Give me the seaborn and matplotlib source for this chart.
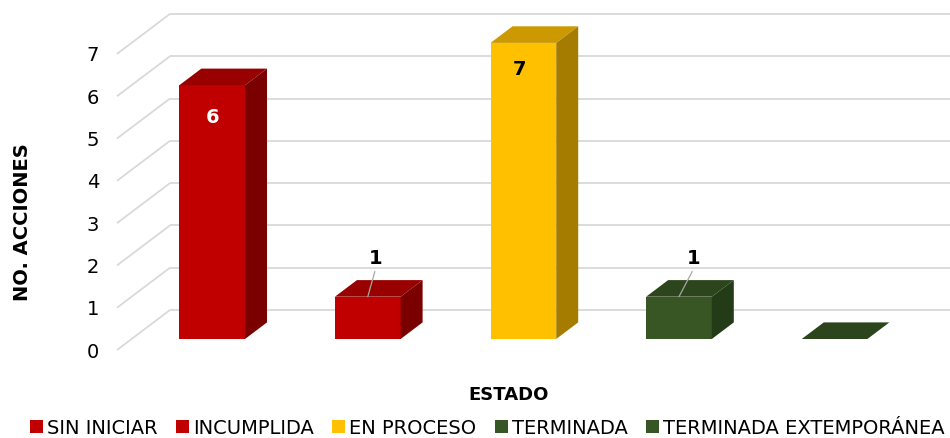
import matplotlib
matplotlib.use('Agg')
import matplotlib.pyplot as plt
import seaborn as sns
from matplotlib.patches import Polygon, Patch
import matplotlib.colors as mcolors

# ---- data ----
categories = ['SIN INICIAR', 'INCUMPLIDA', 'EN PROCESO', 'TERMINADA', 'TERMINADA EXTEMPORÁNEA']
values = [6, 1, 7, 1, 0]
front_colors = ['#C00000', '#C00000', '#FFC000', '#375623', '#375623']
top_colors = ['#990000', '#990000', '#CC9A00', '#2C451C', '#2C451C']
side_colors = ['#7A0000', '#7A0000', '#A67C00', '#243B17', '#243B17']
y_ticks = [0, 1, 2, 3, 4, 5, 6, 7]
y_title = 'NO. ACCIONES'
x_title = 'ESTADO'

# ---- style / layout ----
sns.set_style('white')
plt.rcParams['font.family'] = ['DejaVu Sans']
plt.rcParams['text.color'] = 'black'
plt.rcParams['axes.labelcolor'] = 'black'

W, H = 950, 438
fig = plt.figure(figsize=(W / 100, H / 100), dpi=100)
px_x = 155.6   # pixels per category
px_y = 42.3    # pixels per value unit
ax_left, ax_bottom = 117, 88
xlim = (-0.518, 4.518)
ylim = (0, 8)
ax = fig.add_axes([ax_left / W, ax_bottom / H,
                   (xlim[1] - xlim[0]) * px_x / W, (ylim[1] - ylim[0]) * px_y / H])
ax.set_facecolor('none')

# oblique depth projection (data units per unit depth)
kx = 53 / px_x
ky = 40 / px_y
z1, z2 = 0.275, 0.69
dz = z2 - z1

grid_col = '#D9D9D9'
for v in y_ticks:
    ax.plot([xlim[0], xlim[0] + kx], [v, v + ky], color=grid_col, lw=1.3,
            clip_on=False, zorder=0, solid_capstyle='butt')
    ax.plot([xlim[0] + kx, xlim[1] + kx + 0.3], [v + ky, v + ky], color=grid_col,
            lw=1.3, clip_on=False, zorder=0, solid_capstyle='butt')

sns.barplot(x=categories, y=values, hue=categories, palette=front_colors,
            width=0.422, saturation=1, ax=ax, legend=False, order=categories,
            hue_order=categories)

bars = sorted(ax.patches, key=lambda p: p.get_x())
label_offsets = [(0, -31), (8, -39.5), (-4, -25), (15, -39.5), None]
for i, p in enumerate(bars):
    p.set_linewidth(0)
    p.set_zorder(2)
    xl = p.get_x() + z1 * kx
    w = p.get_width()
    h = p.get_height()
    y0 = z1 * ky
    p.set_x(xl)
    p.set_y(y0)
    top = Polygon([(xl, y0 + h), (xl + w, y0 + h),
                   (xl + w + dz * kx, y0 + h + dz * ky), (xl + dz * kx, y0 + h + dz * ky)],
                  closed=True, facecolor=top_colors[i], edgecolor='none', zorder=2,
                  clip_on=False)
    ax.add_patch(top)
    if h > 0:
        side = Polygon([(xl + w, y0), (xl + w + dz * kx, y0 + dz * ky),
                        (xl + w + dz * kx, y0 + h + dz * ky), (xl + w, y0 + h)],
                       closed=True, facecolor=side_colors[i], edgecolor='none',
                       zorder=2, clip_on=False)
        ax.add_patch(side)

    off = label_offsets[i]
    if off is None or values[i] == 0:
        continue
    cx = xl + w / 2
    ytop = y0 + h
    dx_px, dy_px = off
    r, g, b = mcolors.to_rgb(front_colors[i])
    lum = 0.299 * r + 0.587 * g + 0.114 * b
    if values[i] >= 2:
        col = 'white' if lum < 0.5 else 'black'
        ax.annotate(str(values[i]), xy=(cx, ytop), xytext=(dx_px * 0.72, (dy_px - 7) * 0.72),
                    textcoords='offset points', ha='center', va='baseline',
                    fontsize=14, fontweight='bold', color=col, zorder=5,
                    annotation_clip=False)
    else:
        ax.annotate(str(values[i]), xy=(cx, ytop), xytext=(dx_px * 0.72, (-dy_px - 7) * 0.72),
                    textcoords='offset points', ha='center', va='baseline',
                    fontsize=14, fontweight='bold', color='black', zorder=5,
                    annotation_clip=False,
                    arrowprops=dict(arrowstyle='-', color='#A6A6A6', lw=0.9,
                                    relpos=(0.5, 0.0), shrinkA=0, shrinkB=0))

ax.set_xlim(*xlim)
ax.set_ylim(*ylim)
ax.set_xticks([])
ax.set_yticks(y_ticks)
ax.set_yticklabels([str(t) for t in y_ticks], fontsize=14, color='black')
ax.tick_params(axis='y', length=0, pad=13)
for s in ax.spines.values():
    s.set_visible(False)

ax.set_xlabel(x_title, fontsize=13, fontweight='bold', color='black')
ax.xaxis.set_label_coords((509 - ax_left) / ((xlim[1] - xlim[0]) * px_x),
                          ((H - 400) - ax_bottom) / ((ylim[1] - ylim[0]) * px_y))
ax.xaxis.label.set_verticalalignment('baseline')

ax.set_ylabel(y_title, fontsize=14, fontweight='bold', color='black')
ax.yaxis.set_label_coords((28 - ax_left) / ((xlim[1] - xlim[0]) * px_x),
                          ((H - 222.5) - ax_bottom) / ((ylim[1] - ylim[0]) * px_y))
ax.yaxis.label.set_verticalalignment('baseline')

handles = [Patch(facecolor=c, edgecolor='none', label=l) for c, l in zip(front_colors, categories)]
fig.legend(handles=handles, loc='lower left', bbox_to_anchor=(30 / W, 0.5 / H), ncol=5,
           frameon=False, fontsize=14, handlelength=0.67, handleheight=0.67,
           handletextpad=0.2, columnspacing=0.95, borderpad=0, borderaxespad=0,
           labelcolor='black')

fig.savefig('out.png', dpi=100)
